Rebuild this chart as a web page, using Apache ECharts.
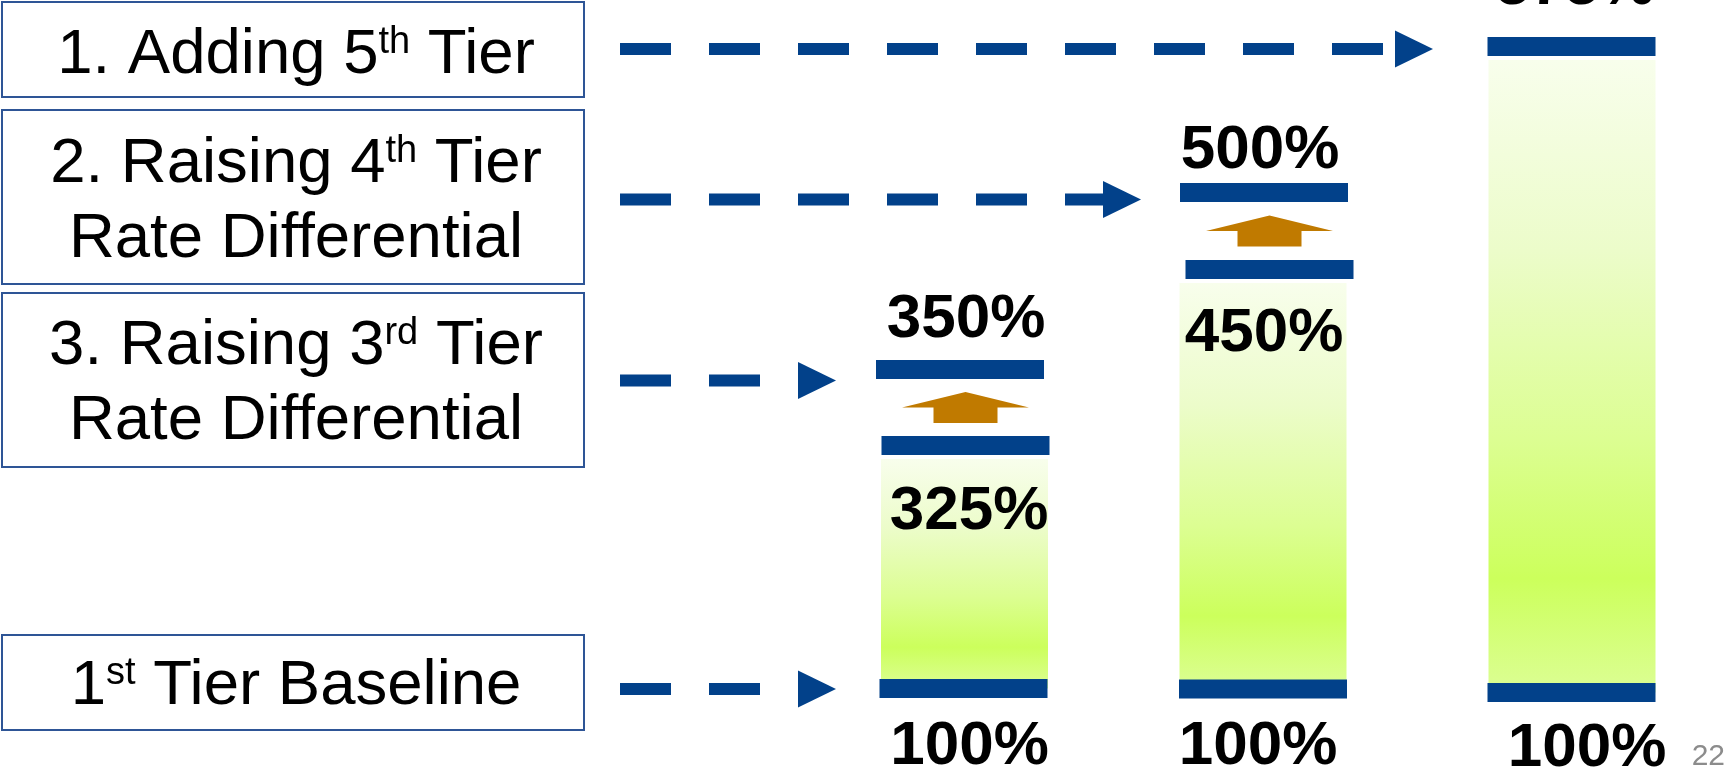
<!DOCTYPE html>
<html>
<head>
<meta charset="utf-8">
<script src="https://cdn.jsdelivr.net/npm/echarts@6/dist/echarts.min.js"></script>
<style>
html,body{margin:0;padding:0;background:#ffffff;}
#chart{width:1728px;height:776px;}
</style>
</head>
<body>
<div id="chart"></div>
<script>
// ---------------- DATA ----------------
const columns = ['After Step 3', 'After Step 2', 'After Step 1'];
const baseTier = [100, 100, 100];          // 1st tier baseline
const barTier = [325, 450, 575];           // tier reached by the green bar
const raisedTier = [350, 500, null];       // raised tier (null = none)
const rowLabels = [
  '1. Adding 5{sup|th} Tier',
  '2. Raising 4{sup|th} Tier\nRate Differential',
  '3. Raising 3{sup|rd} Tier\nRate Differential',
  '1{sup|st} Tier Baseline'
];
const rowTargetColumn = [2, 1, 0, 0];
const rowTargetTier = [575, 500, 350, 100];
const pageNumber = '22';
// schematic (not-to-scale) display height of each tier value
const tierDisplayLevel = {100: 87.5, 325: 330.5, 350: 406.5, 450: 506.5, 500: 583.5, 575: 729.5};
const baseDisplayLevel = [87.5, 87, 83.5];

// ---------------- STYLE / LAYOUT ----------------
const BLUE = '#02418a';
const ORANGE = '#c07a00';
const FONT = '"Liberation Sans", Arial, Helvetica, sans-serif';
const COL_W = 167, LINE_H = 19;
const colDx = [0, -4, 0];
const lineDx = { raised: [-4, 0, 0], bar: [1.5, 5.5, -0.5], base: [-0.5, -1, -0.5] };
const greenDx = [1, -0.5, 0.5];
const labelDy = { top: [-50, -42, -60], inside: [66, 64, 0], base: [58, 57.5, 56] };
const labelDx = { top: [2.5, -3.5, 3.5], inside: [5.5, 0.5, 0], base: [6, -5.5, 15.5] };
const upArrowDx = [2, 6];
const boxes = [[2, 97], [110, 284], [293, 467], [635, 730]];
const boxTextMid = [55, 202, 383.5, 686.5];
const BOX_LEFT = 2, BOX_RIGHT = 584;
const arrowStartGap = 36;
const arrowDy = [2.5, 7, 11, 0.5];
const arrowTipGap = [55, 39, 44, 44];

const gradientStops = [
  { offset: 0, color: '#f8feec' },
  { offset: 0.3, color: '#ecfcca' },
  { offset: 0.6, color: '#dcfe92' },
  { offset: 0.82, color: '#ccff5c' },
  { offset: 1, color: '#dcfe94' }
];

const chart = echarts.init(document.getElementById('chart'), null, { renderer: 'canvas' });

function columnItem(params, api) {
  const c = params.dataIndex;
  const cx = api.coord([c, 0])[0] + colDx[c];
  const yOf = v => api.coord([c, v])[1];
  const baseY = yOf(baseDisplayLevel[c]);
  const barY = yOf(tierDisplayLevel[barTier[c]]);
  const children = [];
  // green gradient bar
  const gTop = barY + LINE_H / 2 + 4;
  children.push({
    type: 'rect',
    shape: { x: cx - COL_W / 2 + greenDx[c], y: gTop, width: COL_W, height: baseY - gTop },
    style: { fill: new echarts.graphic.LinearGradient(0, 0, 0, 1, gradientStops) }
  });
  // tier lines
  const lineRect = (y, dx) => ({
    type: 'rect',
    shape: { x: cx - COL_W / 2 + dx, y: y - LINE_H / 2, width: COL_W + 1, height: LINE_H },
    style: { fill: BLUE }
  });
  children.push(lineRect(baseY, lineDx.base[c]));
  children.push(lineRect(barY, lineDx.bar[c]));
  const txt = (t, x, y) => ({
    type: 'text',
    style: {
      text: t, x: x, y: y, fill: '#000', fontFamily: FONT, fontSize: 62, fontWeight: 'bold',
      align: 'center', verticalAlign: 'middle'
    }
  });
  if (raisedTier[c] != null) {
    const rY = yOf(tierDisplayLevel[raisedTier[c]]);
    children.push(lineRect(rY, lineDx.raised[c]));
    // orange up arrow between the two lines
    const mid = ((rY + LINE_H / 2) + (barY - LINE_H / 2)) / 2;
    const ax = cx + upArrowDx[c];
    const top = mid - 15.5, sh = mid, bot = mid + 15.5;
    children.push({
      type: 'polygon',
      shape: { points: [
        [ax, top], [ax + 63.5, sh], [ax + 32, sh], [ax + 32, bot],
        [ax - 32, bot], [ax - 32, sh], [ax - 63.5, sh]
      ] },
      style: { fill: ORANGE }
    });
    children.push(txt(raisedTier[c] + '%', cx + labelDx.top[c], rY + labelDy.top[c]));
    children.push(txt(barTier[c] + '%', cx + labelDx.inside[c], barY + labelDy.inside[c]));
  } else {
    children.push(txt(barTier[c] + '%', cx + labelDx.top[c], barY + labelDy.top[c]));
  }
  children.push(txt(baseTier[c] + '%', cx + labelDx.base[c], baseY + labelDy.base[c]));
  return { type: 'group', children: children };
}

function arrowItem(params, api) {
  const r = params.dataIndex;
  const c = rowTargetColumn[r];
  const tierV = rowTargetTier[r];
  const lvl = tierV === 100 ? baseDisplayLevel[c] : tierDisplayLevel[tierV];
  const p = api.coord([c, lvl]);
  const cx = p[0] + colDx[c];
  const y = p[1] + arrowDy[r];
  const tip = cx - COL_W / 2 - arrowTipGap[r];
  const headBase = tip - 38;
  return {
    type: 'group',
    children: [
      {
        type: 'line',
        shape: { x1: BOX_RIGHT + arrowStartGap, y1: y, x2: headBase, y2: y },
        style: { stroke: BLUE, lineWidth: 12, lineDash: [51, 38], lineCap: 'butt' }
      },
      {
        type: 'polygon',
        shape: { points: [[headBase, y - 18.5], [tip, y], [headBase, y + 18.5]] },
        style: { fill: BLUE }
      }
    ]
  };
}

const graphics = [];
boxes.forEach((b, i) => {
  graphics.push({
    type: 'rect',
    shape: { x: BOX_LEFT, y: b[0], width: BOX_RIGHT - BOX_LEFT, height: b[1] - b[0] },
    style: { fill: '#ffffff', stroke: '#2e5596', lineWidth: 2 },
    z: 10
  });
  graphics.push({
    type: 'text',
    x: 296, y: boxTextMid[i],
    style: {
      text: rowLabels[i], fill: '#000', fontFamily: FONT, fontSize: 63.5, lineHeight: 75,
      align: 'center', verticalAlign: 'middle',
      rich: { sup: { fontSize: 38, fontFamily: FONT, fill: '#000', padding: [0, 0, 25, 0] } }
    },
    z: 11
  });
});
graphics.push({
  type: 'text', x: 1725, y: 756.6,
  style: { text: pageNumber, fill: '#8c8c8c', fontFamily: FONT, fontSize: 30, align: 'right', verticalAlign: 'middle' },
  z: 11
});

chart.setOption({
  animation: false,
  backgroundColor: '#ffffff',
  grid: { left: 811.5, right: 4.5, top: 0, bottom: 0 },
  xAxis: { type: 'category', data: columns, show: false },
  yAxis: { type: 'value', min: 0, max: 776, show: false },
  graphic: graphics,
  series: [
    {
      type: 'custom', name: 'tiers', clip: false, z: 2,
      data: columns.map((c, i) => [i, tierDisplayLevel[barTier[i]]]),
      renderItem: columnItem
    },
    {
      type: 'custom', name: 'arrows', clip: false, z: 3,
      data: rowLabels.map((l, i) => [rowTargetColumn[i], rowTargetTier[i]]),
      renderItem: arrowItem
    }
  ]
});
</script>
</body>
</html>
